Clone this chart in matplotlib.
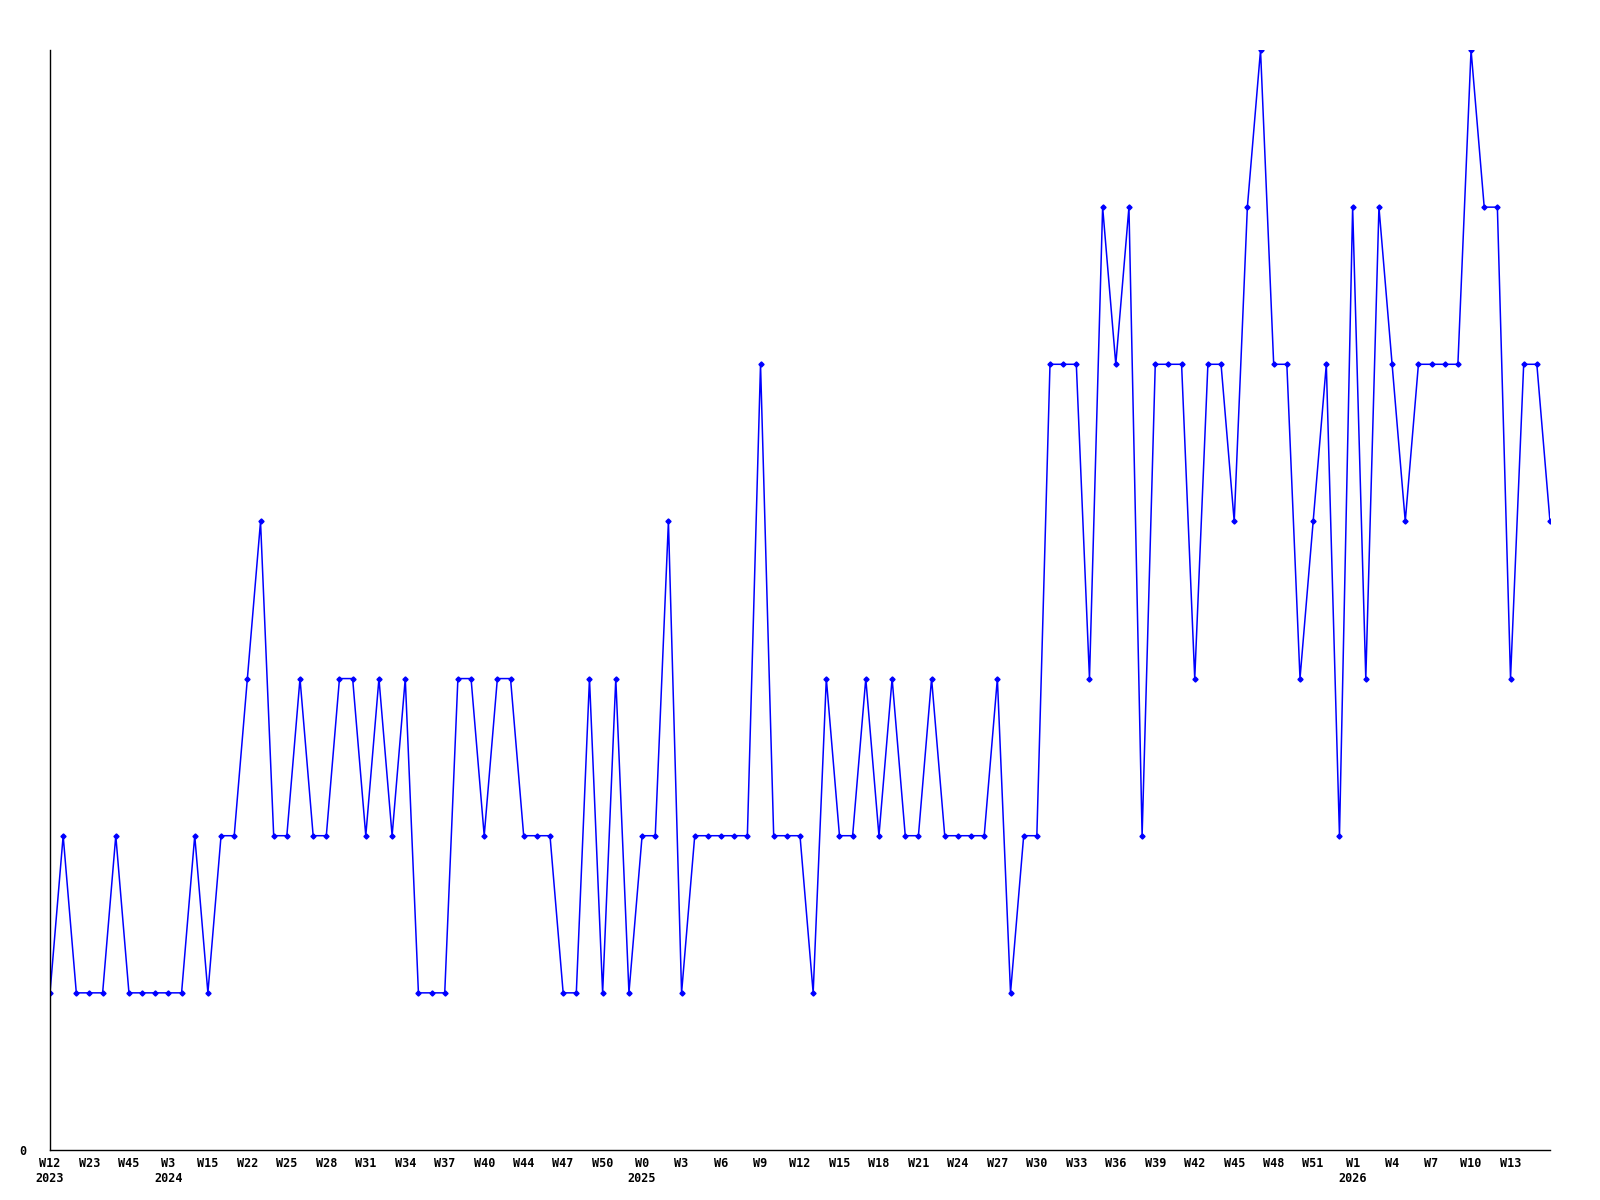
import matplotlib
matplotlib.use("Agg")
import matplotlib.pyplot as plt

# weekly counts, one entry per reported week (gaps in weeks are not drawn)
values = [
    1, 2, 1, 1, 1, 2, 1, 1, 1, 1, 1, 2, 1, 2, 2, 3, 4, 2, 2, 3,
    2, 2, 3, 3, 2, 3, 2, 3, 1, 1, 1, 3, 3, 2, 3, 3, 2, 2, 2, 1,
    1, 3, 1, 3, 1, 2, 2, 4, 1, 2, 2, 2, 2, 2, 5, 2, 2, 2, 1, 3,
    2, 2, 3, 2, 3, 2, 2, 3, 2, 2, 2, 2, 3, 1, 2, 2, 5, 5, 5, 3,
    6, 5, 6, 2, 5, 5, 5, 3, 5, 5, 4, 6, 7, 5, 5, 3, 4, 5, 2, 6,
    3, 6, 5, 4, 5, 5, 5, 5, 7, 6, 6, 3, 5, 5, 4,
]

# every third point carries a label; a year is added where it changes
tick_labels = [
    "W12\n2023", "W23", "W45", "W3\n2024", "W15", "W22", "W25", "W28",
    "W31", "W34", "W37", "W40", "W44", "W47", "W50", "W0\n2025", "W3",
    "W6", "W9", "W12", "W15", "W18", "W21", "W24", "W27", "W30", "W33",
    "W36", "W39", "W42", "W45", "W48", "W51", "W1\n2026", "W4", "W7",
    "W10", "W13",
]
tick_step = 3

fig = plt.figure(figsize=(16, 12), dpi=100)
ax = fig.add_axes([50 / 1600, 50 / 1200, 1500 / 1600, 1100 / 1200])

xs = list(range(len(values)))
ax.plot(xs, values, "-", color="#0000ff", lw=1.1,
        marker="D", ms=2.6, mfc="#0000ff", mec="#0000ff")

ax.set_xlim(0, len(values) - 1)
ax.set_ylim(0, max(values))

for side in ("top", "right"):
    ax.spines[side].set_visible(False)
for side in ("left", "bottom"):
    ax.spines[side].set_linewidth(1.0)
    ax.spines[side].set_color("black")

font = dict(family="DejaVu Sans Mono", weight="bold", size=8.5)

ax.set_xticks([i * tick_step for i in range(len(tick_labels))])
ax.set_xticklabels(tick_labels, linespacing=1.25, va="top", **font)
ax.tick_params(axis="x", length=0, pad=5)

ax.set_yticks([0])
ax.set_yticklabels(["0"], **font)
ax.tick_params(axis="y", length=0, pad=17)

fig.savefig("out.png", dpi=100, facecolor="white")
